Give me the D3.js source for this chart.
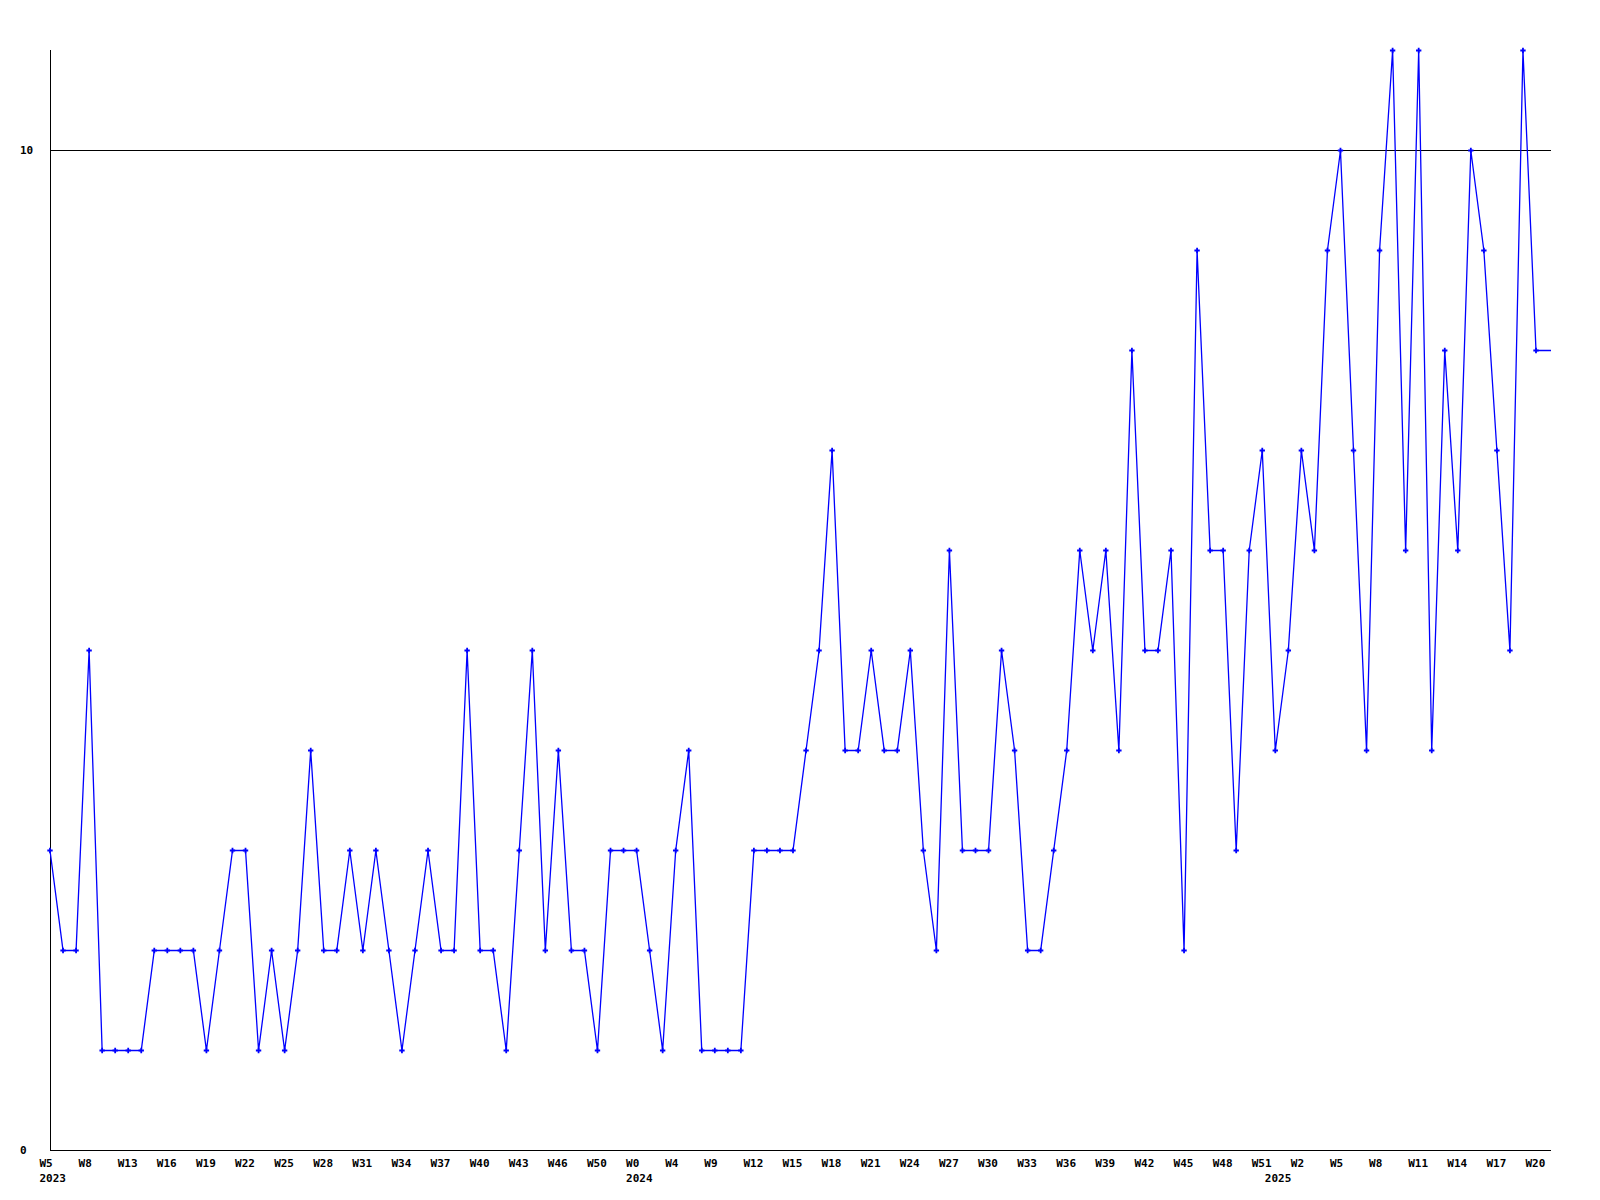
<!DOCTYPE html>
<html>
<head>
<meta charset="utf-8">
<script src="https://cdn.jsdelivr.net/npm/d3@7"></script>
<style>
  html, body { margin: 0; padding: 0; background: #fff; }
  svg { display: block; }
  text { font-family: "DejaVu Sans Mono", "Liberation Mono", monospace; font-weight: bold; font-size: 11px; fill: #000; }
</style>
</head>
<body>
<svg id="chart" width="1600" height="1200"></svg>
<script>
// ---- data ----
const values = [
  3,2,2,5,1,1,1,1,2,2,
  2,2,1,2,3,3,1,2,1,2,
  4,2,2,3,2,3,2,1,2,3,
  2,2,5,2,2,1,3,5,2,4,
  2,2,1,3,3,3,2,1,3,4,
  1,1,1,1,3,3,3,3,4,5,
  7,4,4,5,4,4,5,3,2,6,
  3,3,3,5,4,2,2,3,4,6,
  5,6,4,8,5,5,6,2,9,6,
  6,3,6,7,4,5,7,6,9,10,
  7,4,9,11,6,11,4,8,6,10,
  9,7,5,11,8
];
const weekLabels = ["W5","W8","W13","W16","W19","W22","W25","W28","W31","W34","W37","W40","W43",
  "W46","W50","W0","W4","W9","W12","W15","W18","W21","W24","W27","W30","W33","W36","W39","W42",
  "W45","W48","W51","W2","W5","W8","W11","W14","W17","W20"];
const labelStep = 3;
const yearLabels = ["2023", "2024", "2025"];
const yearIndex = [0, 45, 94];
const yTicks = [0, 10];
const yMax = 11;

// ---- layout ----
const pLeft = 50, pRight = 1551, pTop = 50, pBottom = 1150;
const lastX = 1536;

const svg = d3.select("#chart");
const x = d3.scaleLinear().domain([0, values.length - 1]).range([pLeft, lastX]);
const y = d3.scaleLinear().domain([0, yMax]).range([pBottom, pTop]);

// grid line at tick 10, axis lines
const g = svg.append("g").attr("shape-rendering", "crispEdges");
g.selectAll("line.grid").data(yTicks.filter(t => t > 0)).enter().append("line")
  .attr("x1", pLeft).attr("x2", pRight)
  .attr("y1", d => y(d) + 0.5).attr("y2", d => y(d) + 0.5)
  .attr("stroke", "#000").attr("stroke-width", 1);
g.append("line").attr("x1", pLeft + 0.5).attr("x2", pLeft + 0.5).attr("y1", pTop).attr("y2", pBottom + 1)
  .attr("stroke", "#000");
g.append("line").attr("x1", pLeft).attr("x2", pRight).attr("y1", pBottom + 0.5).attr("y2", pBottom + 0.5)
  .attr("stroke", "#000");

// y labels
svg.selectAll("text.ylab").data(yTicks).enter().append("text")
  .attr("class", "ylab")
  .attr("x", 20).attr("y", d => y(d) + 4)
  .text(d => d);

// x week labels
svg.selectAll("text.wlab").data(weekLabels).enter().append("text")
  .attr("class", "wlab")
  .attr("x", (d, i) => x(i * labelStep) - 10.5)
  .attr("y", pBottom + 17)
  .text(d => d);

// year labels
svg.selectAll("text.ylbl").data(yearLabels).enter().append("text")
  .attr("class", "ylbl")
  .attr("x", (d, i) => x(yearIndex[i]) - 10.5)
  .attr("y", pBottom + 32)
  .text(d => d);

// series line
const pts = values.map((v, i) => [x(i), y(v) + 0.5]);
pts.push([pRight, y(values[values.length - 1]) + 0.5]);
svg.append("path")
  .attr("d", d3.line()(pts))
  .attr("fill", "none")
  .attr("stroke", "#0000ff")
  .attr("stroke-width", 1.3);

// markers
svg.selectAll("path.mk").data(values).enter().append("path")
  .attr("class", "mk")
  .attr("transform", (d, i) => `translate(${x(i)},${y(d) + 0.5})`)
  .attr("d", d3.symbol(d3.symbolCross).size(16))
  .attr("fill", "#0000ff");
</script>
</body>
</html>
